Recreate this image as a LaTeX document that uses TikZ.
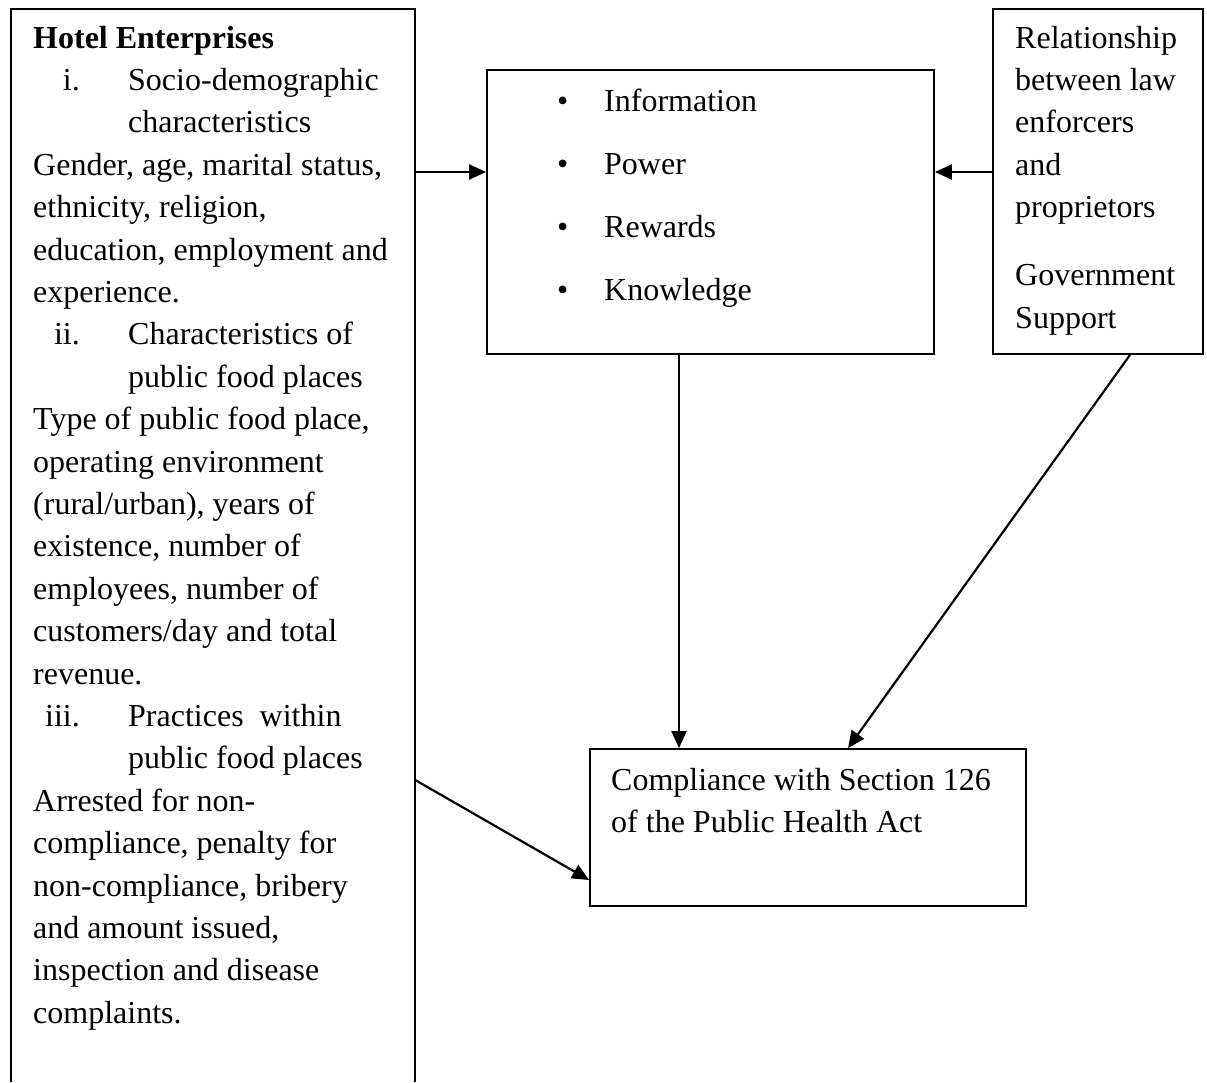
\documentclass[tikz,border=0pt]{standalone}
\usepackage{fontspec}
\setmainfont{Liberation Serif}
\usetikzlibrary{arrows.meta}
\begin{document}
\begin{tikzpicture}[x=1pt,y=-1pt,
  box/.style={draw, line width=1.8pt, inner sep=0pt},
  txt/.style={anchor=base west, inner sep=0pt, font=\fontsize{32}{42}\selectfont},
  num/.style={anchor=base east, inner sep=0pt, font=\fontsize{32}{42}\selectfont},
  arr/.style={line width=2.2pt, -{Triangle[length=17pt,width=15pt]}}]
\useasboundingbox (0,0) rectangle (1207,1082);

% boxes
\node[inner sep=0pt, minimum width=404pt, minimum height=1073pt] (hotel) at (213,545.5) {};
\draw[line width=1.8pt] (hotel.south west) -- (hotel.north west) -- (hotel.north east) -- (hotel.south east);
\node[box, minimum width=447pt, minimum height=284pt] (info) at (710.5,212) {};
\node[box, minimum width=210pt, minimum height=345pt] (rel) at (1098,181.5) {};
\node[box, minimum width=436pt, minimum height=157pt] (comp) at (808,827.5) {};

% left box text
\node[txt, font=\fontsize{32}{42}\selectfont\bfseries] (l1) at (33,48) {Hotel Enterprises};
\node[num] (n1) at (80,90.4) {i.};
\node[num] (n2) at (80,344.8) {ii.};
\node[num] (n3) at (80,726.4) {iii.};
\foreach \n/\x/\y/\t in {
  l2/128/90.4/{Socio-demographic},
  l3/128/132.8/{characteristics},
  l4/33/175.2/{Gender, age, marital status,},
  l5/33/217.6/{ethnicity, religion,},
  l6/33/260/{education, employment and},
  l7/33/302.4/{experience.},
  l8/128/344.8/{Characteristics of},
  l9/128/387.2/{public food places},
  l10/33/429.6/{Type of public food place,},
  l11/33/472/{operating environment},
  l12/33/514.4/{(rural/urban), years of},
  l13/33/556.8/{existence, number of},
  l14/33/599.2/{employees, number of},
  l15/33/641.6/{customers/day and total},
  l16/33/684/{revenue.},
  l17/128/726.4/{Practices\ \ within},
  l18/128/768.8/{public food places},
  l19/33/811.2/{Arrested for non-},
  l20/33/853.6/{compliance, penalty for},
  l21/33/896/{non-compliance, bribery},
  l22/33/938.4/{and amount issued,},
  l23/33/980.8/{inspection and disease},
  l24/33/1023.2/{complaints.}}
  \node[txt] (\n) at (\x,\y) {\t};

% middle box text
\foreach \n/\y/\t in {b1/111/Information, b2/174/Power, b3/237.5/Rewards, b4/300/Knowledge}{
  \node[txt] (\n d) at (557,\y) {•};
  \node[txt] (\n) at (604,\y) {\t};
}

% right box text
\foreach \n/\y/\t in {r1/48/Relationship, r2/90.4/{between law}, r3/132.8/enforcers, r4/175.2/and, r5/217.6/proprietors, r6/285.6/Government, r7/328/Support}
  \node[txt] (\n) at (1015,\y) {\t};

% compliance text
\node[txt] (c1) at (611,790) {Compliance with Section 126};
\node[txt] (c2) at (611,832.4) {of the Public Health Act};

% connectors
\coordinate (ya) at (0,172);
\coordinate (xa) at (679,0);
\coordinate (xb) at (1130,0);
\coordinate (xc) at (848,0);
\coordinate (yb) at (0,780);
\coordinate (yc) at (0,880);
\draw[arr] (hotel.east |- ya) -- (info.west |- ya);
\draw[arr] (rel.west |- ya) -- (info.east |- ya);
\draw[arr] (info.south -| xa) -- (comp.north -| xa);
\draw[arr] (rel.south -| xb) -- (comp.north -| xc);
\draw[arr] (hotel.east |- yb) -- (comp.west |- yc);
\end{tikzpicture}
\end{document}
